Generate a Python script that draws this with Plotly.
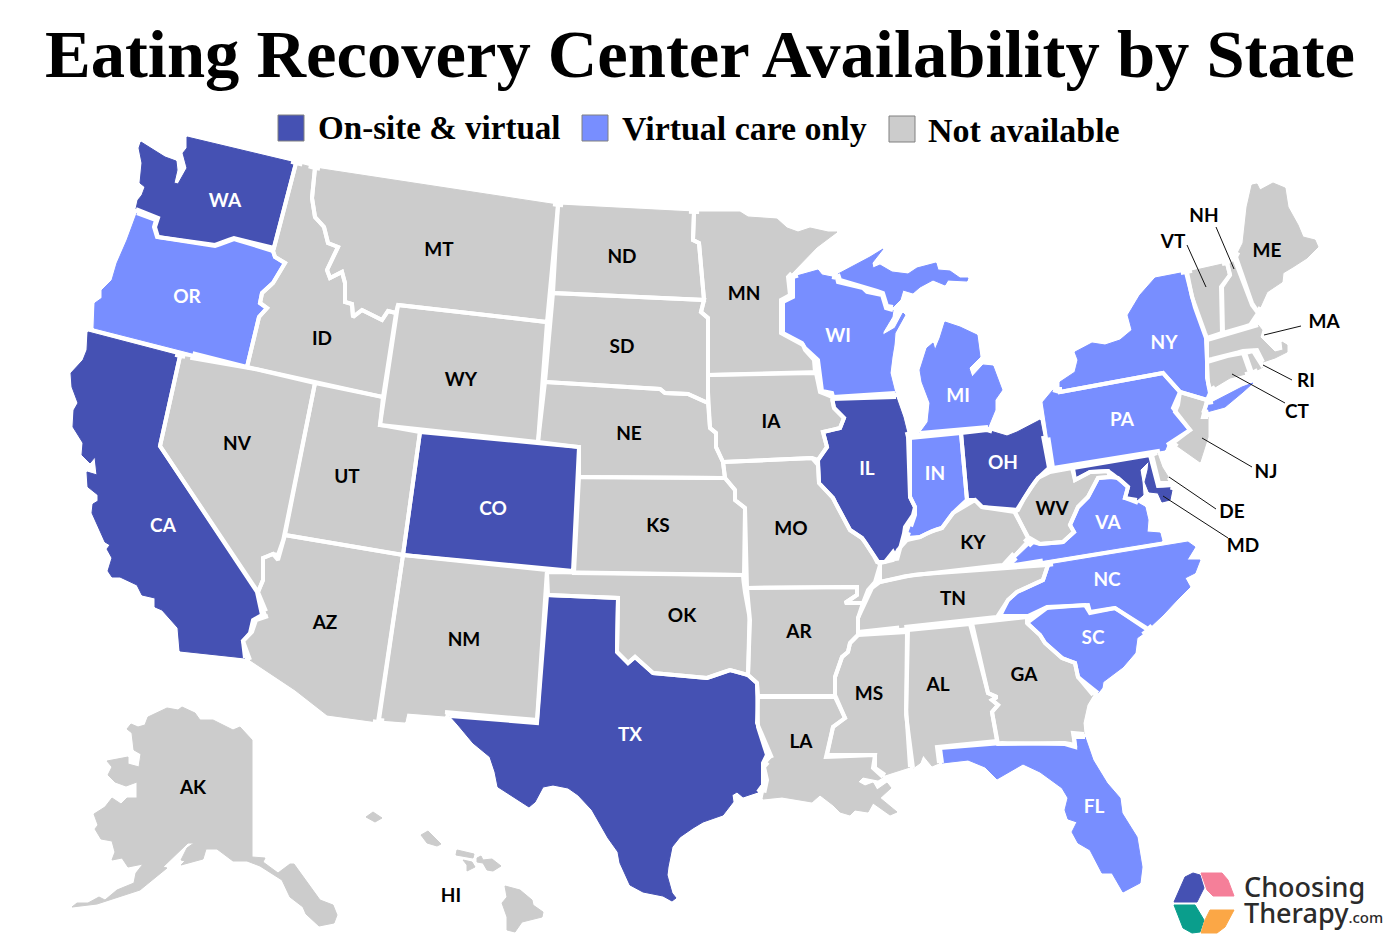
import numpy as np
import plotly.graph_objects as go

TITLE = "Eating Recovery Center Availability by State"
COLORS = {"onsite": "#4551B3", "virtual": "#788EFF", "none": "#CCCCCC"}

legend_names = ["On-site & virtual", "Virtual care only", "Not available"]
legend_keys = ["onsite", "virtual", "none"]
legend_swatch_x = [291, 595, 902]
legend_swatch_y = [128, 128, 129]
legend_text_x = [318, 622, 928]
legend_text_y = [131, 132, 133]

onsite_states = ["WA", "CA", "CO", "TX", "IL", "OH", "MD"]
virtual_states = ["OR", "WI", "MI", "IN", "PA", "NY", "VA", "NC", "SC", "FL"]
none_states = ["ID", "MT", "ND", "SD", "WY", "NV", "UT", "AZ", "NM", "NE", "KS", "OK", "MN", "IA", "MO", "AR", "LA",
               "MS", "AL", "GA", "TN", "KY", "WV", "NJ", "DE", "CT", "RI", "MA", "VT", "NH", "ME", "AK", "HI"]

WA = [(187,137),(296,163),(274,248),(234,238),(215,245),(158,237),(155,227),(158,218),(136,209),(138,200),(142,195),(145,187),(140,183),(142,163),(139,148),(141,142),(165,157),(176,161),(177,170),(174,183),(178,184),(187,168),(183,153),(187,148)]
OR = [(137,213),(156,220),(154,227),(157,237),(215,246),(234,239),(273,251),(275,257),(285,263),(273,283),(262,293),(260,303),(267,308),(259,317),(247,367),(94,328),(95,303),(102,298),(102,290),(112,280),(117,263),(127,240)]
CA = [(88,332),(180,356),(160,446),(257,592),(262,615),(253,620),(250,633),(243,641),(245,658),(180,651),(178,628),(162,610),(155,607),(155,598),(142,595),(137,585),(120,577),(112,577),(108,571),(112,558),(107,549),(110,545),(105,542),(98,527),(92,513),(93,504),(98,501),(98,495),(88,487),(87,472),(97,475),(95,457),(90,463),(82,455),(83,443),(73,427),(74,410),(78,403),(72,387),(71,373),(83,360),(87,350)]
NV = [(180,356),(247,367),(315,383),(285,535),(278,555),(273,554),(263,558),(263,580),(258,592),(160,446)]
ID = [(296,163),(315,168),(312,198),(315,217),(324,227),(328,243),(338,247),(327,270),(330,278),(342,272),(345,283),(345,302),(352,304),(353,317),(362,310),(382,320),(388,311),(396,313),(383,397),(247,367),(259,317),(267,308),(260,303),(262,293),(273,283),(285,263),(275,257),(273,251)]
MT = [(315,168),(558,205),(547,322),(398,305),(396,313),(388,311),(382,320),(362,310),(353,317),(352,304),(345,302),(345,283),(342,272),(330,278),(327,270),(338,247),(328,243),(324,227),(315,217),(312,198)]
ND = [(558,205),(694,212),(693,240),(699,243),(702,275),(704,300),(553,293)]
SD = [(553,293),(704,300),(701,312),(708,318),(708,403),(688,394),(665,393),(660,389),(545,382)]
WY = [(398,305),(547,322),(538,442),(380,425)]
NE = [(545,382),(660,389),(665,393),(688,394),(708,403),(710,428),(716,433),(716,447),(723,462),(725,478),(579,477),(579,447),(538,442)]
CO = [(420,432),(579,447),(573,571),(403,555)]
UT = [(315,383),(383,397),(380,425),(420,432),(403,555),(285,535)]
AZ = [(285,535),(403,555),(378,722),(327,715),(295,690),(250,660),(245,647),(243,641),(252,632),(256,620),(268,616),(258,592),(263,580),(263,558),(273,554),(278,560)]
NM = [(403,555),(547,570),(537,720),(445,712),(445,716),(407,713),(405,722),(379,720)]
OK = [(547,572),(743,575),(744,587),(750,620),(748,675),(730,670),(707,678),(653,673),(635,657),(628,663),(617,652),(618,598),(548,595)]
TX = [(547,595),(618,598),(617,652),(628,663),(635,657),(653,673),(707,678),(730,670),(748,675),(757,683),(758,727),(767,755),(763,763),(763,785),(758,792),(743,797),(737,792),(732,795),(733,802),(723,815),(703,822),(693,828),(680,837),(672,847),(668,867),(667,875),(672,893),(676,898),(672,901),(663,896),(643,892),(630,885),(620,863),(618,852),(608,838),(592,810),(578,795),(568,788),(553,785),(543,787),(535,802),(529,807),(498,787),(495,772),(490,757),(473,743),(458,725),(450,716),(537,723)]
KS = [(579,477),(725,478),(735,490),(735,500),(745,508),(744,575),(574,573)]
MN = [(694,212),(740,212),(748,217),(777,219),(787,228),(798,232),(810,228),(828,232),(837,232),(817,247),(788,277),(790,295),(781,300),(781,333),(803,345),(805,350),(814,360),(815,372),(708,375),(708,318),(701,312),(704,300),(702,275),(699,243),(693,240)]
IA = [(708,375),(816,373),(820,392),(832,397),(834,408),(844,418),(840,428),(823,432),(827,447),(818,460),(812,458),(723,462),(716,447),(716,433),(710,428),(708,403)]
MO = [(723,462),(812,458),(818,465),(819,483),(833,498),(840,512),(845,520),(850,530),(862,538),(872,552),(880,565),(875,582),(868,590),(863,603),(845,603),(857,595),(857,587),(747,588),(745,508),(735,500),(735,490),(725,478)]
IL = [(832,399),(834,408),(844,418),(840,428),(823,432),(827,447),(818,460),(819,483),(833,498),(840,512),(845,520),(850,530),(862,538),(872,552),(877,562),(885,562),(893,552),(897,560),(903,540),(905,527),(913,515),(915,507),(910,497),(908,437),(903,417),(896,397)]
WI = [(793,277),(818,270),(822,275),(837,278),(838,282),(863,288),(867,292),(882,295),(886,308),(893,310),(892,317),(883,332),(883,335),(895,328),(903,313),(905,315),(895,333),(894,345),(892,357),(890,373),(895,393),(833,397),(832,393),(822,391),(818,360),(805,348),(802,343),(783,333),(783,302),(793,297)]
MI = [(838,274),(870,257),(883,249),(872,263),(873,268),(880,265),(892,272),(908,274),(917,268),(936,263),(938,270),(950,271),(960,278),(968,278),(967,281),(948,280),(945,285),(933,280),(920,287),(913,293),(903,290),(900,300),(893,307),(887,306),(883,293),(865,287),(840,280),None,
      (945,322),(960,327),(977,335),(980,357),(969,368),(972,377),(983,365),(993,366),(1002,390),(995,400),(995,410),(988,427),(920,433),(928,422),(930,403),(922,382),(920,370),(927,348),(933,343),(935,350),(940,338),(943,328)]
IN = [(910,438),(961,433),(967,500),(953,513),(942,528),(932,531),(920,537),(907,538),(915,515),(915,507),(910,497)]
OH = [(961,433),(987,430),(1007,436),(1017,432),(1040,420),(1049,468),(1038,478),(1027,493),(1018,510),(982,507),(975,500),(967,500)]
KY = [(907,540),(920,537),(932,531),(942,528),(953,513),(967,505),(975,500),(982,507),(1015,512),(1028,538),(1003,565),(910,575),(880,582),(880,563),(893,560),(898,550)]
TN = [(880,582),(910,575),(1048,565),(1043,580),(1017,592),(1008,600),(997,617),(858,632),(858,618),(872,588)]
NC = [(1048,565),(1188,542),(1195,547),(1187,560),(1200,560),(1195,573),(1185,578),(1190,587),(1177,600),(1163,615),(1148,629),(1115,608),(1090,612),(1088,605),(1047,607),(1028,616),(1000,616),(1008,600),(1017,592),(1043,580)]
VA = [(1008,566),(1033,542),(1040,544),(1063,542),(1074,532),(1070,525),(1078,507),(1088,497),(1098,478),(1110,477),(1118,478),(1128,487),(1125,498),(1138,503),(1145,507),(1148,520),(1147,532),(1160,533),(1162,541)]
WV = [(1050,472),(1072,468),(1075,480),(1090,472),(1108,471),(1110,477),(1098,478),(1088,497),(1078,507),(1070,525),(1074,532),(1063,542),(1040,544),(1028,537),(1015,513),(1027,493),(1038,478)]
MD = [(1073,468),(1150,455),(1158,486),(1173,485),(1170,500),(1162,502),(1158,493),(1149,492),(1145,482),(1148,470),(1149,461),(1140,470),(1142,482),(1143,495),(1137,500),(1125,498),(1128,487),(1118,478),(1108,471),(1090,472),(1075,480)]
DE = [(1152,455),(1157,453),(1162,467),(1172,483),(1159,483)]
NJ = [(1180,392),(1207,400),(1203,417),(1208,417),(1208,437),(1200,462),(1173,443),(1190,430),(1175,412),(1178,405)]
PA = [(1060,392),(1163,373),(1180,392),(1173,408),(1190,430),(1167,445),(1165,450),(1053,468),(1043,402),(1053,390)]
NY = [(1060,382),(1075,372),(1078,360),(1075,352),(1092,343),(1105,345),(1120,340),(1132,330),(1128,315),(1140,295),(1155,278),(1186,272),(1193,302),(1206,338),(1207,378),(1210,393),(1207,400),(1180,392),(1163,373),(1060,392),None,
      (1203,413),(1207,403),(1213,402),(1242,387),(1253,383),(1243,392),(1225,407)]
CT = [(1207,362),(1222,357),(1243,353),(1250,373),(1230,378),(1210,390),(1207,378)]
RI = [(1245,353),(1253,351),(1263,367),(1252,373)]
MA = [(1207,340),(1250,327),(1258,325),(1262,330),(1260,337),(1275,352),(1283,350),(1282,342),(1287,345),(1287,352),(1275,358),(1263,362),(1257,350),(1243,351),(1222,357),(1207,360)]
VT = [(1187,272),(1227,263),(1230,275),(1221,287),(1222,333),(1207,338),(1193,302)]
NH = [(1227,263),(1234,258),(1252,305),(1258,313),(1250,325),(1223,333),(1222,287),(1230,275)]
ME = [(1236,257),(1243,243),(1247,207),(1252,185),(1257,184),(1260,190),(1273,183),(1285,188),(1288,207),(1298,225),(1303,237),(1315,240),(1318,247),(1307,258),(1293,267),(1283,273),(1282,282),(1267,292),(1258,312),(1252,303)]
SC = [(1027,623),(1047,608),(1085,605),(1090,613),(1115,608),(1148,630),(1137,638),(1135,653),(1123,667),(1103,682),(1102,688),(1098,693),(1078,677),(1075,663),(1062,658),(1045,643),(1040,635)]
GA = [(972,623),(1027,617),(1027,623),(1040,635),(1045,643),(1062,658),(1075,663),(1078,677),(1093,695),(1087,705),(1083,723),(1084,734),(1073,733),(1075,745),(1065,743),(998,744),(992,712),(998,705),(992,700),(997,697),(988,693)]
AL = [(908,630),(970,624),(988,693),(997,697),(992,700),(998,705),(992,712),(997,741),(937,747),(939,763),(932,766),(923,755),(920,763),(913,768),(906,720)]
MS = [(907,632),(858,635),(850,643),(848,652),(842,657),(835,677),(835,695),(845,718),(833,727),(827,755),(875,755),(875,768),(885,775),(910,767),(906,720)]
AR = [(747,588),(857,587),(857,595),(845,603),(863,603),(858,618),(858,635),(850,643),(848,652),(842,657),(835,677),(835,696),(758,696),(757,683),(748,675),(750,620)]
LA = [(758,697),(835,697),(845,718),(833,727),(826,757),(875,755),(873,768),(883,777),(878,780),(863,777),(858,782),(865,786),(873,783),(877,790),(887,783),(891,788),(880,798),(897,812),(890,815),(873,803),(868,812),(855,810),(850,815),(840,812),(833,805),(820,795),(812,802),(782,797),(763,799),(767,780),(764,767),(772,758),(757,723)]
FL = [(940,748),(997,743),(1065,744),(1075,747),(1074,737),(1085,737),(1093,760),(1107,783),(1120,798),(1122,813),(1137,837),(1142,867),(1140,883),(1123,892),(1112,873),(1102,873),(1090,850),(1078,843),(1072,832),(1077,822),(1068,819),(1065,810),(1068,798),(1062,788),(1040,772),(1023,764),(997,779),(985,767),(968,760),(942,763)]
AK = [(252,740),(240,727),(233,730),(213,720),(200,720),(195,713),(182,707),(178,710),(167,708),(148,717),(145,725),(138,727),(131,724),(127,729),(132,733),(134,750),(141,754),(139,767),(128,764),(128,757),(107,761),(112,767),(108,775),(115,782),(126,786),(137,782),(137,798),(127,798),(121,804),(112,798),(105,807),(94,814),(98,825),(95,829),(101,839),(112,841),(115,852),(112,860),(122,858),(128,867),(143,864),(136,873),(134,883),(117,890),(105,900),(99,897),(88,903),(77,903),(72,907),(97,904),(140,890),(167,868),(163,867),(188,843),(194,843),(187,848),(181,860),(185,861),(181,865),(192,862),(203,859),(206,849),(217,849),(233,861),(247,861),(260,866),(282,880),(290,897),(303,907),(306,914),(319,926),(334,923),(337,915),(333,905),(320,900),(294,864),(290,864),(278,873),(263,862),(265,858),(252,857)]
HI = [(366,817),(373,812),(382,818),(375,822),None,
      (421,835),(428,831),(441,844),(437,846),(427,843),None,
      (456,855),(457,850),(474,854),(473,858),None,
      (463,860),(472,862),(475,867),(467,871),(467,865),None,
      (477,858),(481,856),(483,860),(492,859),(501,866),(493,871),(487,870),(483,863),(477,862),None,
      (505,886),(520,890),(532,900),(533,905),(543,912),(542,917),(522,922),(515,932),(507,930),(507,917),(502,903),(507,897)]

labels_white = ["WA", "OR", "CA", "CO", "TX", "IL", "OH", "IN", "MI", "WI", "PA", "NY", "VA", "NC", "SC", "FL"]
labels_white_x = [225, 187, 163, 493, 630, 867, 1003, 935, 958, 838, 1122, 1164, 1108, 1107, 1093, 1094]
labels_white_y = [202, 298, 527, 510, 736, 470, 464, 475, 397, 337, 421, 344, 524, 581, 639, 808]
labels_black = ["ID", "MT", "ND", "SD", "WY", "NE", "NV", "UT", "KS", "AZ", "NM", "OK", "MN", "IA", "KY", "WV", "TN", "GA", "AL", "MS", "AR", "LA", "MO", "ME", "NH", "VT", "MA", "RI", "CT", "NJ", "DE", "MD", "AK", "HI"]
labels_black_x = [322, 439, 622, 622, 461, 629, 237, 347, 658, 325, 464, 682, 744, 771, 973, 1052, 953, 1024, 938, 869, 799, 801, 791, 1267, 1204, 1173, 1324, 1306, 1297, 1266, 1232, 1243, 193, 451]
labels_black_y = [340, 251, 258, 348, 381, 435, 445, 478, 527, 624, 641, 617, 295, 423, 544, 510, 600, 676, 686, 695, 633, 743, 530, 252, 217, 243, 323, 382, 413, 473, 513, 547, 789, 897]

leaders_x = [[1187, 1206], [1216, 1234], [1301, 1264], [1292, 1263], [1285, 1232], [1252, 1202], [1216, 1169], [1228, 1163]]
leaders_y = [[245, 287], [227, 269], [326, 335], [380, 365], [403, 374], [467, 438], [509, 477], [538, 496]]

logo_blue = [(1174,902),(1185,877),(1193,873),(1200,875),(1204,888),(1197,902)]
logo_pink = [(1201,873),(1222,873),(1228,880),(1234,896),(1213,896),(1207,890)]
logo_green = [(1174,905),(1195,905),(1204,920),(1200,932),(1192,933),(1183,928)]
logo_orange = [(1210,910),(1234,910),(1225,927),(1217,933),(1201,933),(1205,920)]
logo_colors = ["#4551B3", "#F57F99", "#0A9E8C", "#FBA746"]

STATES = dict(WA=WA, OR=OR, CA=CA, NV=NV, ID=ID, MT=MT, ND=ND, SD=SD, WY=WY, NE=NE, CO=CO, UT=UT, AZ=AZ, NM=NM, OK=OK, TX=TX,
              KS=KS, MN=MN, IA=IA, MO=MO, IL=IL, WI=WI, MI=MI, IN=IN, OH=OH, KY=KY, TN=TN, NC=NC, VA=VA, WV=WV, MD=MD, DE=DE,
              NJ=NJ, PA=PA, NY=NY, CT=CT, RI=RI, MA=MA, VT=VT, NH=NH, ME=ME, SC=SC, GA=GA, AL=AL, MS=MS, AR=AR, LA=LA, FL=FL,
              AK=AK, HI=HI)


def rings(points):
    out, cur = [], []
    for p in points:
        if p is None:
            out.append(cur)
            cur = []
        else:
            cur.append(p)
    out.append(cur)
    return out


def split(points):
    xs, ys = [], []
    for ring in rings(points):
        closed = ring + [ring[0]]
        xs += [p[0] for p in closed] + [None]
        ys += [p[1] for p in closed] + [None]
    return xs[:-1], ys[:-1]


def segments(points):
    a, b = [], []
    for ring in rings(points):
        for i, p in enumerate(ring):
            a.append(p)
            b.append(ring[(i + 1) % len(ring)])
    return np.array(a, float), np.array(b, float)


SEGS = {k: segments(v) for k, v in STATES.items()}


def near_other(px, py, name, reach=5.0):
    for other, (a, b) in SEGS.items():
        if other == name:
            continue
        d = b - a
        t = np.clip(((px - a[:, 0]) * d[:, 0] + (py - a[:, 1]) * d[:, 1]) / (d ** 2).sum(axis=1), 0, 1)
        if (np.hypot(a[:, 0] + t * d[:, 0] - px, a[:, 1] + t * d[:, 1] - py) < reach).any():
            return True
    return False


def shared_borders():
    xs, ys = [], []
    for name, pts in STATES.items():
        for ring in rings(pts):
            closed = ring + [ring[0]]
            drawing = False
            for p, q in zip(closed[:-1], closed[1:]):
                n = max(1, int(np.hypot(q[0] - p[0], q[1] - p[1]) / 5))
                for i in range(n):
                    x0 = p[0] + (q[0] - p[0]) * i / n
                    y0 = p[1] + (q[1] - p[1]) * i / n
                    x1 = p[0] + (q[0] - p[0]) * (i + 1) / n
                    y1 = p[1] + (q[1] - p[1]) * (i + 1) / n
                    if near_other((x0 + x1) / 2, (y0 + y1) / 2, name):
                        if not drawing:
                            xs.append(x0)
                            ys.append(y0)
                        xs.append(x1)
                        ys.append(y1)
                        drawing = True
                    elif drawing:
                        xs.append(None)
                        ys.append(None)
                        drawing = False
            xs.append(None)
            ys.append(None)
    return xs, ys


fig = go.Figure()


def add_group(names, key):
    for name in names:
        xs, ys = split(STATES[name])
        fig.add_trace(go.Scatter(x=xs, y=ys, mode="lines", fill="toself", fillcolor=COLORS[key],
                                 line=dict(color=COLORS[key], width=1), hoverinfo="skip", name=name, showlegend=False))


add_group(none_states, "none")
add_group(virtual_states, "virtual")
add_group(onsite_states, "onsite")

border_x, border_y = shared_borders()
fig.add_trace(go.Scatter(x=border_x, y=border_y, mode="lines", line=dict(color="white", width=4), hoverinfo="skip", showlegend=False))

for lx, ly in zip(leaders_x, leaders_y):
    fig.add_trace(go.Scatter(x=lx, y=ly, mode="lines", line=dict(color="#111111", width=1), hoverinfo="skip", showlegend=False))

fig.add_trace(go.Scatter(x=labels_white_x, y=labels_white_y, text=labels_white, mode="text", hoverinfo="skip", showlegend=False,
                         textfont=dict(family="Lato", size=19, color="white", weight=700)))
fig.add_trace(go.Scatter(x=labels_black_x, y=labels_black_y, text=labels_black, mode="text", hoverinfo="skip", showlegend=False,
                         textfont=dict(family="Lato", size=19, color="black", weight=700)))

fig.add_trace(go.Scatter(x=legend_swatch_x, y=legend_swatch_y, mode="markers", hoverinfo="skip", showlegend=False,
                         marker=dict(symbol="square", size=26, color=[COLORS[k] for k in legend_keys], line=dict(color="#808080", width=1))))
fig.add_trace(go.Scatter(x=legend_text_x, y=legend_text_y, text=legend_names, mode="text", textposition="middle right",
                         hoverinfo="skip", showlegend=False,
                         textfont=dict(family="Liberation Serif", size=[33.1, 33.9, 34], color="black", weight=700)))

for poly, col in zip([logo_blue, logo_pink, logo_green, logo_orange], logo_colors):
    xs, ys = split(poly)
    fig.add_trace(go.Scatter(x=xs, y=ys, mode="lines", fill="toself", fillcolor=col, line=dict(color=col, width=1),
                             hoverinfo="skip", showlegend=False))
fig.add_trace(go.Scatter(x=[1244], y=[890], text=["Choosing"], mode="text", textposition="middle right", hoverinfo="skip", showlegend=False,
                         textfont=dict(family="Noto Sans", size=27, color="#2B2B2B", weight=500)))
fig.add_trace(go.Scatter(x=[1244], y=[916], text=["Therapy<span style='font-size:15px'>.com</span>"], mode="text", textposition="middle right",
                         hoverinfo="skip", showlegend=False, textfont=dict(family="Noto Sans", size=27, color="#2B2B2B", weight=500)))

fig.update_layout(
    width=1400, height=950, margin=dict(l=0, r=0, t=0, b=0), paper_bgcolor="white", plot_bgcolor="white",
    title=dict(text=TITLE, x=0.5, xanchor="center", y=0.944, yanchor="middle",
               font=dict(family="Liberation Serif", size=68.6, color="black", weight=700)),
    xaxis=dict(range=[0, 1400], visible=False, fixedrange=True),
    yaxis=dict(range=[950, 0], visible=False, fixedrange=True),
    hovermode=False,
)
fig.write_html("out.html", config={"displayModeBar": False},
               post_script="document.body.style.margin='0';document.body.style.overflow='hidden';")
